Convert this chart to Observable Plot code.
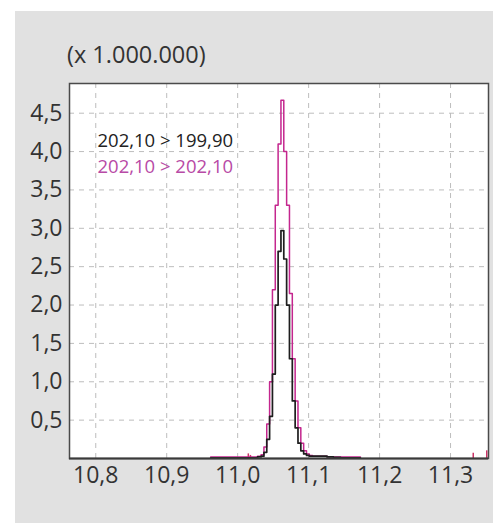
<!DOCTYPE html>
<html>
<head>
<meta charset="utf-8">
<script src="https://cdn.jsdelivr.net/npm/d3@7"></script>
<script src="https://cdn.jsdelivr.net/npm/@observablehq/plot@0.6"></script>
<style>
  html, body { margin: 0; padding: 0; background: #ffffff; }
  #wrap { position: relative; width: 493px; height: 523px; overflow: hidden; font-family: "Open Sans", sans-serif; }
  #panel { position: absolute; left: 15px; top: 11px; width: 478px; height: 512px; background: #e1e1e1; }
  #title { position: absolute; left: 67px; top: 43px; font-size: 23.5px; line-height: 22px; color: #333; white-space: nowrap; }
  #chart { position: absolute; left: 0; top: 0; }
</style>
</head>
<body>
<div id="wrap">
  <div id="panel"></div>
  <div id="title">(x 1.000.000)</div>
  <div id="chart"></div>
</div>
<script>
// Retention time (min)
const times = [10.962, 10.975, 10.99, 11.005, 11.015, 11.025, 11.031, 11.035, 11.039, 11.043, 11.047, 11.051, 11.055, 11.059, 11.063, 11.067, 11.071, 11.075, 11.079, 11.083, 11.087, 11.091, 11.095, 11.099, 11.103, 11.108, 11.115, 11.122, 11.13, 11.14, 11.15, 11.16, 11.173];
// Intensity (x 1.000.000) for transition 202,10 > 202,10 (magenta)
const magenta = [0.02, 0.02, 0.02, 0.02, 0.02, 0.02, 0.03, 0.05, 0.15, 0.45, 1.0, 2.2, 3.3, 4.1, 4.67, 4.0, 3.3, 2.15, 1.3, 0.75, 0.4, 0.2, 0.1, 0.06, 0.04, 0.03, 0.03, 0.03, 0.02, 0.02, 0.02, 0.02, 0.02];
// Intensity (x 1.000.000) for transition 202,10 > 199,90 (black)
const black = [0.01, 0.01, 0.01, 0.01, 0.01, 0.01, 0.02, 0.03, 0.08, 0.25, 0.55, 1.1, 2.0, 2.7, 2.97, 2.6, 2.0, 1.3, 0.75, 0.4, 0.2, 0.1, 0.06, 0.04, 0.03, 0.03, 0.03, 0.03, 0.02, 0.015, 0.01, 0.01, 0.01];
// small noise spikes (red)
const noiseX = [11.015, 11.018, 11.332, 11.351];
const noiseY = [0.06, 0.04, 0.07, 0.1];

const xTicks = [10.8, 10.9, 11.0, 11.1, 11.2, 11.3];
const yTicks = [0.5, 1.0, 1.5, 2.0, 2.5, 3.0, 3.5, 4.0, 4.5];
const legendLabels = ["202,10 > 199,90", "202,10 > 202,10"];
const legendColors = ["#222222", "#b84aa6"];

const fmt = d => d.toFixed(1).replace(".", ",");

const magData = times.map((t, i) => ({t, v: magenta[i]}));
const blkData = times.map((t, i) => ({t, v: black[i]}));
const noiseData = noiseX.map((t, i) => ({t, v: noiseY[i]}));

const plot = Plot.plot({
  width: 493,
  height: 523,
  marginLeft: 69,
  marginTop: 83,
  marginRight: 5,
  marginBottom: 65,
  style: {background: "transparent", fontFamily: "Open Sans, sans-serif", overflow: "visible"},
  x: {domain: [10.763, 11.3535], label: null},
  y: {domain: [0, 4.887], label: null},
  marks: [
    Plot.frame({fill: "white", stroke: null}),
    Plot.gridX(xTicks, {stroke: "#bdbdbd", strokeOpacity: 1, strokeDasharray: "5,5"}),
    Plot.gridY(yTicks, {stroke: "#bdbdbd", strokeOpacity: 1, strokeDasharray: "5,5"}),
    Plot.axisX(xTicks, {tickSize: 0, tickPadding: 8, tickFormat: fmt, fontSize: 23, fill: "#333", label: null}),
    Plot.axisY(yTicks, {tickSize: 0, tickPadding: 7, tickFormat: fmt, fontSize: 23, fill: "#333", label: null}),
    Plot.ruleX(noiseData, {x: "t", y1: 0, y2: "v", stroke: "#cc3366", strokeWidth: 1.5}),
    Plot.line(magData, {x: "t", y: "v", curve: "step", stroke: "#c4268e", strokeWidth: 1.5}),
    Plot.line(blkData, {x: "t", y: "v", curve: "step", stroke: "#1e1e1e", strokeWidth: 1.7}),
    Plot.frame({stroke: "#4a4a4a", strokeWidth: 1.5}),
    Plot.ruleY([0], {stroke: "#3a3a3a", strokeWidth: 2.2}),
    Plot.text([legendLabels[0]], {
      frameAnchor: "top-left", dx: 28, dy: 50,
      fill: legendColors[0], textAnchor: "start", fontSize: 18.5
    }),
    Plot.text([legendLabels[1]], {
      frameAnchor: "top-left", dx: 28, dy: 76,
      fill: legendColors[1], textAnchor: "start", fontSize: 18.5
    })
  ]
});
document.getElementById("chart").appendChild(plot);
</script>
</body>
</html>
